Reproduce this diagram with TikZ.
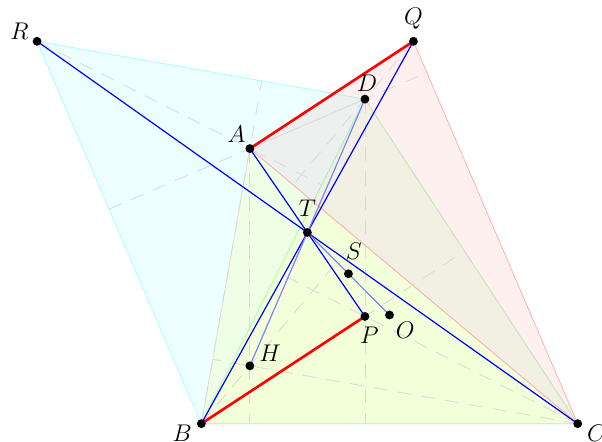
\documentclass[tikz,border=0pt]{standalone}
\usetikzlibrary{calc}
\definecolor{tcyan}{RGB}{0,255,255}
\definecolor{tyellow}{RGB}{255,255,0}
\definecolor{tgreen}{RGB}{0,255,0}
\definecolor{tred}{RGB}{255,0,0}
\tikzset{
  dot/.style={circle, fill=black, inner sep=0pt, minimum size=4.4pt},
  lbl/.style={inner sep=0pt, font=\large},
  tricyan/.style={draw=tcyan!35, fill=tcyan, fill opacity=0.07},
  trigreen/.style={draw=tgreen!30, fill=tgreen, fill opacity=0.06},
  triyellow/.style={draw=gray!25, fill=tyellow, fill opacity=0.1},
  trired/.style={draw=tred!30, fill=tred, fill opacity=0.06},
  altline/.style={gray!30, dash pattern=on 7pt off 5pt},
  bluefull/.style={blue, semithick},
  bluelight/.style={blue!50, semithick},
  redseg/.style={red, line width=1.3pt},
}

\begin{document}
\begin{tikzpicture}
    \useasboundingbox (-6.812,-2.204) rectangle (3.716,5.509);
    % circle through A, B, C, D
    \coordinate (O) at (0,0);
    \coordinate (A) at (130:3.8);
    \coordinate (B) at (210:3.8);
    \coordinate (C) at (330:3.8);
    \coordinate (D) at (96.5:3.8);
    % orthocenters
    \coordinate (H) at ($(A)+(B)+(C)$);
    \coordinate (P) at ($(D)+(B)+(C)$);
    \coordinate (Q) at ($(A)+(C)+(D)$);
    \coordinate (R) at ($(A)+(B)+(D)$);
    \coordinate (T) at ($0.5*(A)+0.5*(B)+0.5*(C)+0.5*(D)$);
    \coordinate (S) at ($(O)!0.5!(T)$);

    % triangles
    \filldraw[tricyan] (R) -- (B) -- (D) -- cycle;
    \filldraw[trigreen] (D) -- (B) -- (C) -- cycle;
    \filldraw[triyellow] (A) -- (B) -- (C) -- cycle;
    \filldraw[trired] (A) -- (Q) -- (C) -- cycle;

    % altitudes
    \foreach \u/\v/\w in {A/B/C, B/C/A, C/A/B, D/B/C, B/C/D, C/D/B,
                          R/B/D, B/D/R, D/R/B, A/Q/C, Q/C/A, C/A/Q}
        \draw[altline] (\u) -- ($(\v)!(\u)!(\w)$);

    \draw[bluefull] (R) -- (C);
    \draw[bluefull] (Q) -- (B);
    \draw[bluefull] (A) -- (P);
    \draw[bluelight] (D) -- (H);
    \draw[bluelight] (T) -- (O);

    \draw[redseg] (A) -- (Q);
    \draw[redseg] (B) -- (P);

    \node[dot] (pA) at (A) {};
    \node[dot] (pB) at (B) {};
    \node[dot] (pC) at (C) {};
    \node[dot] (pD) at (D) {};
    \node[dot] (pH) at (H) {};
    \node[dot] (pP) at (P) {};
    \node[dot] (pQ) at (Q) {};
    \node[dot] (pR) at (R) {};
    \node[dot] (pT) at (T) {};
    \node[dot] (pS) at (S) {};
    \node[dot] (pO) at (O) {};

    \node[lbl, anchor=base east, xshift=-4pt, yshift=1pt] (lR) at (R) {$R$};
    \node[lbl, anchor=base, yshift=8.5pt] (lQ) at (Q) {$Q$};
    \node[lbl, anchor=base, xshift=1pt, yshift=4pt] (lD) at (D) {$D$};
    \node[lbl, anchor=base east, xshift=-2pt, yshift=3pt] (lA) at (A) {$A$};
    \node[lbl, anchor=base, yshift=8pt] (lT) at (T) {$T$};
    \node[lbl, anchor=base, xshift=2.7pt, yshift=7pt] (lS) at (S) {$S$};
    \node[lbl, anchor=north, xshift=2.2pt, yshift=-5pt] (lP) at (P) {$P$};
    \node[lbl, anchor=north west, xshift=3pt, yshift=-3.5pt] (lO) at (O) {$O$};
    \node[lbl, anchor=base west, xshift=4.5pt, yshift=2pt] (lH) at (H) {$H$};
    \node[lbl, anchor=north east, xshift=-4.5pt, yshift=-0.5pt] (lB) at (B) {$B$};
    \node[lbl, anchor=north west, xshift=4.5pt, yshift=-0.5pt] (lC) at (C) {$C$};
\end{tikzpicture}
\end{document}
